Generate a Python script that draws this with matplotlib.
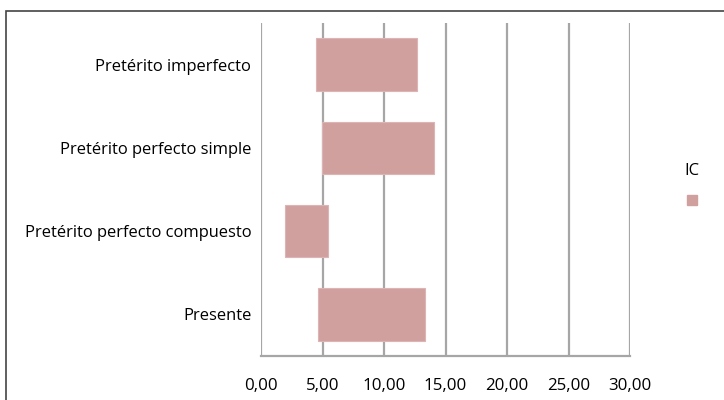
import matplotlib
matplotlib.use('Agg')
import matplotlib.pyplot as plt
from matplotlib.lines import Line2D
from matplotlib.patches import Rectangle

categories = ['Presente', 'Pretérito perfecto compuesto',
              'Pretérito perfecto simple', 'Pretérito imperfecto']
ic_low = [4.63, 1.95, 4.96, 4.47]
ic_high = [13.33, 5.45, 14.07, 12.68]
xticks = [0, 5, 10, 15, 20, 25, 30]
xtick_labels = ['0,00', '5,00', '10,00', '15,00', '20,00', '25,00', '30,00']

bar_color = '#d0a09f'
grid_color = '#a6a6a6'
plt.rcParams['font.family'] = ['Open Sans', 'DejaVu Sans']

fig = plt.figure(figsize=(7.24, 4.0), dpi=100)
ax = fig.add_axes([0.3605, 0.11, 0.5097, 0.8325])

widths = [h - l for l, h in zip(ic_low, ic_high)]
ax.barh(range(len(categories)), widths, left=ic_low, height=0.63,
        color=bar_color, edgecolor='#dcb4b3', linewidth=0.8, zorder=3)

ax.set_xlim(0, 30)
ax.set_ylim(-0.5, len(categories) - 0.5)
ax.set_xticks(xticks)
ax.set_xticklabels(xtick_labels, fontsize=12.2)
ax.set_yticks(range(len(categories)))
ax.set_yticklabels(categories, fontsize=11.9)
ax.tick_params(axis='x', length=0, pad=16)
ax.tick_params(axis='y', length=0, pad=7)

ax.grid(axis='x', color=grid_color, linewidth=1.6, zorder=0)
for side in ['top', 'right', 'left']:
    ax.spines[side].set_visible(False)
ax.spines['bottom'].set_color(grid_color)
ax.spines['bottom'].set_linewidth(1.6)

handle = Line2D([], [], marker='s', linestyle='none', color=bar_color,
                markersize=7)
leg = fig.legend([handle], [''], title='IC', loc='center',
                 bbox_to_anchor=(0.956, 0.535), frameon=False,
                 title_fontproperties={'size': 12}, handletextpad=0,
                 labelspacing=1.1)

# outer chart border (cropped on the right and bottom)
fig.add_artist(Rectangle((6 / 724, -0.1), 1.2, 1 - 11 / 400 + 0.1,
                         transform=fig.transFigure, fill=False,
                         edgecolor='#444444', linewidth=1.2))

fig.savefig('out.png', dpi=100)
